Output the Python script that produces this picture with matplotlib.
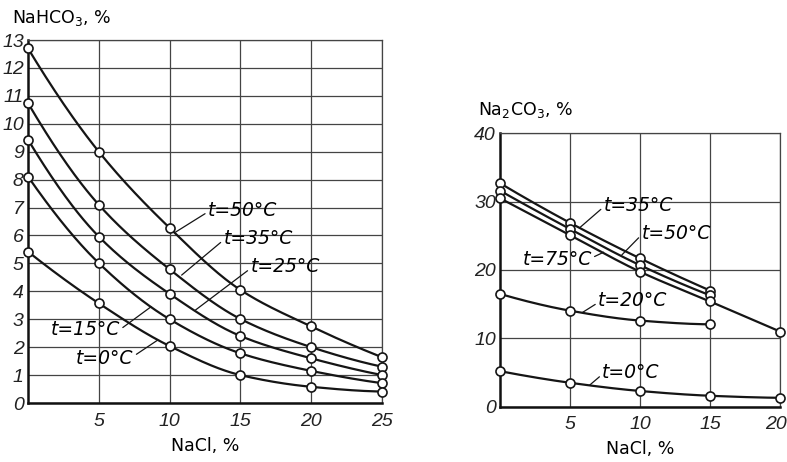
import numpy as np
import matplotlib
matplotlib.use("Agg")
import matplotlib.pyplot as plt
import matplotlib.transforms as mtransforms

# ---------------- data ----------------
# Left panel: NaHCO3 solubility vs NaCl
nacl_left = [0, 5, 10, 15, 20, 25]
nahco3_t50 = [12.7, 9.0, 6.27, 4.05, 2.74, 1.64]
nahco3_t35 = [10.74, 7.1, 4.79, 3.01, 2.0, 1.30]
nahco3_t25 = [9.43, 5.96, 3.91, 2.40, 1.60, 1.0]
nahco3_t15 = [8.11, 5.01, 3.0, 1.78, 1.15, 0.71]
nahco3_t0 = [5.42, 3.57, 2.04, 1.0, 0.58, 0.41]

# Right panel: Na2CO3 solubility vs NaCl
nacl_right = [0, 5, 10, 15]
nacl_right_ext = [0, 5, 10, 15, 20]
na2co3_t35 = [32.7, 26.9, 21.7, 17.0]
na2co3_t50 = [31.6, 26.0, 20.7, 16.3]
na2co3_t75 = [30.5, 25.1, 19.75, 15.4, 11.0]
na2co3_t20 = [16.5, 14.05, 12.6, 12.05]
na2co3_t0 = [5.2, 3.5, 2.3, 1.6, 1.3]

left_xticks = [5, 10, 15, 20, 25]
left_yticks = list(range(0, 14))
right_xticks = [5, 10, 15, 20]
right_yticks = [0, 10, 20, 30, 40]

left_labels = ["t=50°C", "t=35°C", "t=25°C", "t=15°C", "t=0°C"]
right_labels = ["t=35°C", "t=50°C", "t=75°C", "t=20°C", "t=0°C"]


def pchip(x, y, xn):
    x = np.asarray(x, float)
    y = np.asarray(y, float)
    h = np.diff(x)
    d = np.diff(y) / h
    n = len(x)
    m = np.zeros(n)
    for k in range(1, n - 1):
        if d[k - 1] * d[k] > 0:
            w1 = 2 * h[k] + h[k - 1]
            w2 = h[k] + 2 * h[k - 1]
            m[k] = (w1 + w2) / (w1 / d[k - 1] + w2 / d[k])
    def endslope(h0, h1, d0, d1):
        s = ((2 * h0 + h1) * d0 - h0 * d1) / (h0 + h1)
        if np.sign(s) != np.sign(d0):
            s = 0.0
        elif np.sign(d0) != np.sign(d1) and abs(s) > abs(3 * d0):
            s = 3 * d0
        return s
    m[0] = endslope(h[0], h[1], d[0], d[1])
    m[-1] = endslope(h[-1], h[-2], d[-1], d[-2])
    idx = np.clip(np.searchsorted(x, xn) - 1, 0, n - 2)
    t = (xn - x[idx]) / h[idx]
    h00 = 2 * t**3 - 3 * t**2 + 1
    h10 = t**3 - 2 * t**2 + t
    h01 = -2 * t**3 + 3 * t**2
    h11 = t**3 - t**2
    return h00 * y[idx] + h10 * h[idx] * m[idx] + h01 * y[idx + 1] + h11 * h[idx] * m[idx + 1]


tick_font = dict(family=["Liberation Sans", "DejaVu Sans"], style="italic", size=14)
ann_font = dict(family=["DejaVu Sans"], style="italic", size=13.5)
lab_font = dict(family=["DejaVu Sans"], size=12.5)

fig = plt.figure(figsize=(7.87, 4.62), dpi=100)
fig.patch.set_facecolor("white")


def style_axes(ax, xlim, ylim, xticks, yticks):
    ax.set_xlim(*xlim)
    ax.set_ylim(*ylim)
    ax.set_xticks(xticks)
    ax.set_yticks(yticks)
    ax.set_xticklabels([str(v) for v in xticks], fontdict=tick_font)
    ax.set_yticklabels([str(v) for v in yticks], fontdict=tick_font)
    ax.tick_params(length=0, pad=3, colors="#222222")
    ax.tick_params(axis="x", pad=7)
    ax.grid(True, color="#444444", lw=0.9)
    for s in ["left", "bottom"]:
        ax.spines[s].set_linewidth(1.8)
        ax.spines[s].set_color("#111111")
    for s in ["top", "right"]:
        ax.spines[s].set_linewidth(0.9)
        ax.spines[s].set_color("#444444")
    ax.set_axisbelow(True)


def draw_series(ax, x, y):
    xs = np.linspace(x[0], x[-1], 200)
    ax.plot(xs, pchip(x, y, xs), color="#151515", lw=1.6, zorder=3, clip_on=False)
    ax.plot(x, y, "o", ms=6.5, mfc="white", mec="#151515", mew=1.2, zorder=4, clip_on=False)


# ---------------- left panel ----------------
axL = fig.add_axes([28 / 787, 1 - 403 / 462, 354 / 787, 363 / 462])
style_axes(axL, (0, 25), (0, 13), left_xticks, left_yticks)
for ys in [nahco3_t50, nahco3_t35, nahco3_t25, nahco3_t15, nahco3_t0]:
    draw_series(axL, nacl_left, ys)

lp = dict(arrowstyle="-", color="#151515", lw=0.9, shrinkA=0, shrinkB=0)
axL.annotate(left_labels[0], xy=(10.42, 6.12), xytext=(12.7, 6.91), ha="left", va="center",
             arrowprops=dict(lp, relpos=(0, 0.4)), **ann_font)
axL.annotate(left_labels[1], xy=(10.85, 4.58), xytext=(13.8, 5.9), ha="left", va="center",
             arrowprops=dict(lp, relpos=(0, 0.4)), **ann_font)
axL.annotate(left_labels[2], xy=(11.83, 3.33), xytext=(15.7, 4.88), ha="left", va="center",
             arrowprops=dict(lp, relpos=(0, 0.4)), **ann_font)
axL.annotate(left_labels[3], xy=(8.7, 3.45), xytext=(1.6, 2.63), ha="left", va="center",
             arrowprops=dict(lp, relpos=(1, 0.5)), **ann_font)
axL.annotate(left_labels[4], xy=(9.15, 2.25), xytext=(3.4, 1.61), ha="left", va="center",
             arrowprops=dict(lp, relpos=(1, 0.6)), **ann_font)

axL.set_xlabel("NaCl, %", labelpad=5, **lab_font)
fig.text(12 / 787, 1 - 18 / 462, "NaHCO$_3$, %", ha="left", va="center", **lab_font)

# ---------------- right panel ----------------
axR = fig.add_axes([500 / 787, 1 - 406.7 / 462, 280 / 787, 273.4 / 462])
style_axes(axR, (0, 20), (0, 40), right_xticks, right_yticks)
draw_series(axR, nacl_right, na2co3_t35)
draw_series(axR, nacl_right, na2co3_t50)
draw_series(axR, nacl_right_ext, na2co3_t75)
draw_series(axR, nacl_right, na2co3_t20)
draw_series(axR, nacl_right_ext, na2co3_t0)

# keep the last x tick label inside the figure edge
last = axR.get_xticklabels()[-1]
last.set_transform(last.get_transform() + mtransforms.ScaledTranslation(-4 / 100, 0, fig.dpi_scale_trans))

axR.annotate(right_labels[0], xy=(5.7, 26.2), xytext=(7.4, 29.5), ha="left", va="center",
             arrowprops=dict(lp, relpos=(0, 0.4)), **ann_font)
axR.annotate(right_labels[1], xy=(8.7, 22.2), xytext=(10.1, 25.4), ha="left", va="center",
             arrowprops=dict(lp, relpos=(0, 0.4)), **ann_font)
axR.annotate(right_labels[2], xy=(7.4, 22.6), xytext=(1.6, 21.5), ha="left", va="center",
             arrowprops=dict(lp, relpos=(1, 0.6)), **ann_font)
axR.annotate(right_labels[3], xy=(5.9, 13.8), xytext=(7.0, 15.5), ha="left", va="center",
             arrowprops=dict(lp, relpos=(0, 0.4)), **ann_font)
axR.annotate(right_labels[4], xy=(6.4, 3.15), xytext=(7.3, 5.0), ha="left", va="center",
             arrowprops=dict(lp, relpos=(0, 0.4)), **ann_font)

axR.set_xlabel("NaCl, %", labelpad=5, **lab_font)
fig.text(478 / 787, 1 - 110 / 462, "Na$_2$CO$_3$, %", ha="left", va="center", **lab_font)

fig.savefig("out.png", dpi=100, facecolor="white")
